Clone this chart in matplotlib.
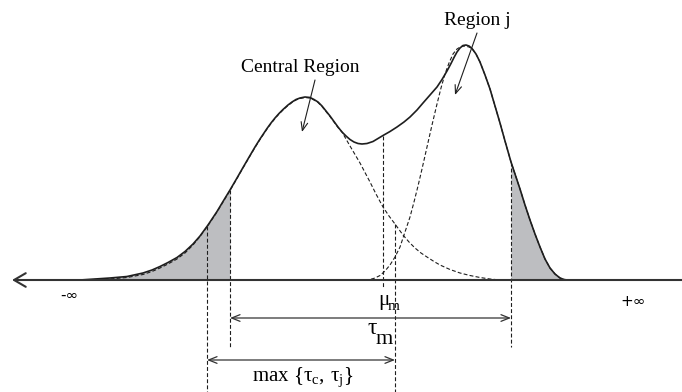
import numpy as np
import matplotlib.pyplot as plt

plt.rcParams["mathtext.fontset"] = "custom"
plt.rcParams["mathtext.rm"] = "Liberation Serif"
plt.rcParams["mathtext.it"] = "Liberation Serif"

# combined density (solid): x position, height above the axis
mix_x = [80, 95, 110, 127, 143, 152, 160, 168, 177, 185, 193, 200, 208, 217, 223,
         230, 237, 243, 250, 255, 260, 267, 271, 275, 279, 283, 288, 292, 296, 300,
         305, 310, 314, 318, 322, 326, 330, 334, 338, 342, 346, 350, 354, 358, 362,
         367, 373, 378, 383, 390, 397, 404, 410, 417, 423, 430, 437, 442, 447, 451,
         454, 457, 460, 463, 466, 469, 472, 476, 480, 485, 490, 495, 500, 505, 511,
         515, 520, 525, 530, 535, 540, 545, 550, 555, 560, 564, 567]
mix_h = [0, 1, 2, 3.5, 7, 10, 13.5, 17.5, 22.5, 28.5, 36, 44, 55, 68.5, 78.5,
         90, 102, 112.5, 124.5, 133, 141, 151.5, 157, 162, 166.5, 170.5, 175, 178, 180.5, 182,
         183, 182.5, 180.5, 178, 174, 169, 164, 158.5, 153, 148, 144, 140.5, 138, 136.5, 136,
         136.5, 138.5, 141.5, 144.5, 148.5, 153, 158, 163, 170, 177, 185, 193, 200.5, 209, 216.5,
         222.5, 228, 232, 234.5, 235, 234, 231.5, 226, 218, 205, 191, 174, 157, 139, 118,
         106, 91, 75, 60, 46, 33, 21, 12, 6, 2, 0.5, 0]

# central region component (dashed)
central_x = [80, 95, 110, 127, 143, 152, 160, 168, 177, 185, 193, 200, 208, 217, 223,
             230, 237, 243, 250, 255, 260, 267, 271, 275, 279, 283, 288, 292, 296, 300,
             305, 310, 314, 318, 322, 326, 330, 334, 338, 342, 346, 350, 355, 360, 365,
             370, 376, 383, 389, 395, 403, 409, 415, 421, 427, 434, 440, 450, 460, 470,
             480, 490, 500]
central_h = [0, 0.5, 1, 2.5, 5.5, 8.5, 12, 16, 21, 27, 35, 43.5, 54.5, 68, 78,
             89.5, 101.5, 112, 124, 132.5, 140.5, 151, 156.5, 161.5, 166, 170, 174.5, 177.5, 180, 181.5,
             182.5, 182, 180, 177.5, 173.5, 168.5, 163.5, 158, 152.5, 148, 141, 134, 125.5, 117, 107.5,
             98, 86, 73, 64, 56, 45, 38, 32, 27, 23, 18.5, 15, 10.5, 7, 4.5,
             2.5, 1, 0]

# region j component (dashed)
regj_x = [365, 370, 375, 380, 385, 390, 395, 400, 405, 410, 414, 418, 422, 427, 432,
          437, 441, 445, 449, 453, 457, 461, 465, 469, 472, 476, 480, 485, 490, 495,
          500, 505, 511, 515, 520, 525, 530, 535, 540, 545, 550, 555, 560, 564, 567]
regj_h = [0, 0.5, 2, 4.5, 9, 15, 23, 33, 48, 63, 78, 94, 111, 133, 155,
          176, 192, 206, 217, 226, 231, 233.5, 234, 233, 231.5, 226, 218, 205, 191, 174,
          157, 139, 118, 106, 91, 75, 60, 46, 33, 21, 12, 6, 2, 0.5, 0]

# thresholds on the axis
tau_lo, tau_hi = 230, 511
max_lo, max_hi = 207, 395
mu_m = 383

ink = "#1e1e1e"
grey = "#bdbec1"
serif = "Liberation Serif"

fig = plt.figure(figsize=(6.82, 3.92), dpi=100)
ax = fig.add_axes([0, 0, 1, 1])
ax.set_xlim(0, 682)
ax.set_ylim(-112, 280)
ax.axis("off")

mix_x = np.array(mix_x)
mix_h = np.array(mix_h)

# shaded tails outside tau_m
ax.fill_between(mix_x, 0, mix_h, where=mix_x <= tau_lo, color=grey, lw=0)
ax.fill_between(mix_x, 0, mix_h, where=mix_x >= tau_hi, color=grey, lw=0)

dash = dict(color=ink, lw=0.8, ls=(0, (3.5, 2)))
ax.plot(central_x, central_h, **dash)
ax.plot(regj_x, regj_h, **dash)
ax.plot(mix_x, mix_h, color=ink, lw=1.2, solid_joinstyle="round")

# vertical guides
ax.plot([tau_lo, tau_lo], [np.interp(tau_lo, mix_x, mix_h), -67], **dash)
ax.plot([tau_hi, tau_hi], [np.interp(tau_hi, mix_x, mix_h), -67], **dash)
ax.plot([max_lo, max_lo], [np.interp(max_lo, mix_x, mix_h), -112], **dash)
ax.plot([max_hi, max_hi], [np.interp(max_hi, central_x, central_h), -112], **dash)
ax.plot([mu_m, mu_m], [np.interp(mu_m, mix_x, mix_h), -8], **dash)

# the real line
ax.annotate("", xy=(12, 0), xytext=(682, 0),
            arrowprops=dict(arrowstyle="->,head_length=0.6,head_width=0.35",
                            color="#333333", lw=1.5, mutation_scale=14,
                            shrinkA=0, shrinkB=0))

# span arrows
span = dict(arrowstyle="<->,head_length=0.5,head_width=0.2", color="#333333",
            lw=0.9, mutation_scale=12, shrinkA=0, shrinkB=0)
ax.annotate("", xy=(tau_lo, -38), xytext=(tau_hi, -38), arrowprops=span)
ax.annotate("", xy=(max_lo, -80), xytext=(max_hi, -80), arrowprops=span)

# labels
ax.text(300, 213, "Central Region", family=serif, fontsize=14, ha="center", va="center")
ax.text(477, 260, "Region j", family=serif, fontsize=14, ha="center", va="center")
pointer = dict(arrowstyle="->,head_length=0.5,head_width=0.2", color=ink,
               lw=0.8, mutation_scale=12, shrinkA=0, shrinkB=0)
ax.annotate("", xy=(302, 148), xytext=(315, 200), arrowprops=pointer)
ax.annotate("", xy=(455, 185), xytext=(477, 247), arrowprops=pointer)

ax.text(69, -15, "-∞", family="DejaVu Sans", fontsize=11, ha="center", va="center")
ax.text(633, -22, "+∞", family="DejaVu Sans", fontsize=11, ha="center", va="center")

ax.text(384, -20, "μ", family=serif, fontsize=15, ha="center", va="center")
ax.text(394, -26, "m", family=serif, fontsize=11, ha="center", va="center")
ax.text(372, -49, "τ", family=serif, fontsize=17, ha="center", va="center")
ax.text(384, -59, "m", family=serif, fontsize=16, ha="center", va="center")
ax.text(303, -97, r"$\mathrm{max\ \{\tau_c,\,\tau_j\}}$", fontsize=15,
        ha="center", va="center")

fig.savefig("out.png", dpi=100)
